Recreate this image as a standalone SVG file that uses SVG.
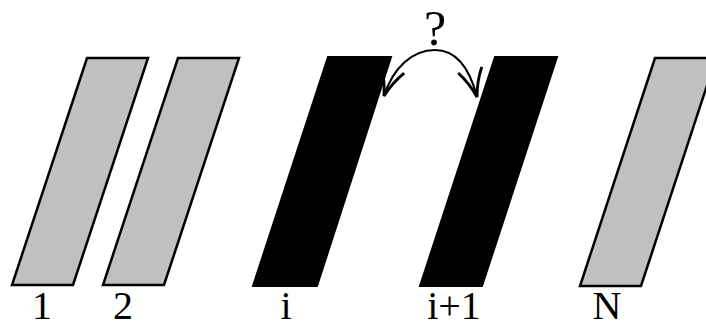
<svg xmlns="http://www.w3.org/2000/svg" width="706" height="327" viewBox="0 0 706 327">
<style>
.gray{fill:#c0c0c0;stroke:#000;stroke-width:2.5;stroke-linejoin:miter}
.black{fill:#000;stroke:#000;stroke-width:2}
.lbl{font-family:"Liberation Serif",serif;font-size:40px;fill:#000;text-anchor:middle}
.arc{fill:none;stroke:#000;stroke-width:2.2}
</style>
<defs>
<marker id="ah" viewBox="0 0 28 28" refX="26" refY="14" markerWidth="34" markerHeight="34" markerUnits="userSpaceOnUse" orient="auto">
<path d="M3,4 Q14,11 26,14 Q14,17 3,24" fill="none" stroke="#000" stroke-width="2.4"/>
</marker>
</defs>
<g id="n1"><polygon class="gray" points="87,58 148,58 73,285 12,285"/><text class="lbl" x="42" y="319">1</text></g>
<g id="n2"><polygon class="gray" points="178,58 239,58 164,285 103,285"/><text class="lbl" x="123" y="319">2</text></g>
<g id="ni"><polygon class="black" points="328,57 391,57 317,286 253,286"/><text class="lbl" x="286" y="319">i</text></g>
<g id="ni1"><polygon class="black" points="495,57 557,57 482,286 420,286"/><text class="lbl" x="454" y="319">i+1</text></g>
<g id="nN"><polygon class="gray" points="655,58 716,58 641,286 580,286"/><text class="lbl" x="607" y="319">N</text></g>
<g id="q"><text class="lbl" x="435" y="45" style="font-size:50px">?</text></g>
<g id="connectors">
<path class="arc" d="M435,50 C412,50 393,68 384,96" marker-end="url(#ah)"/>
<path class="arc" d="M435,50 C458,50 470,70 477,97" marker-end="url(#ah)"/>
</g>
</svg>
